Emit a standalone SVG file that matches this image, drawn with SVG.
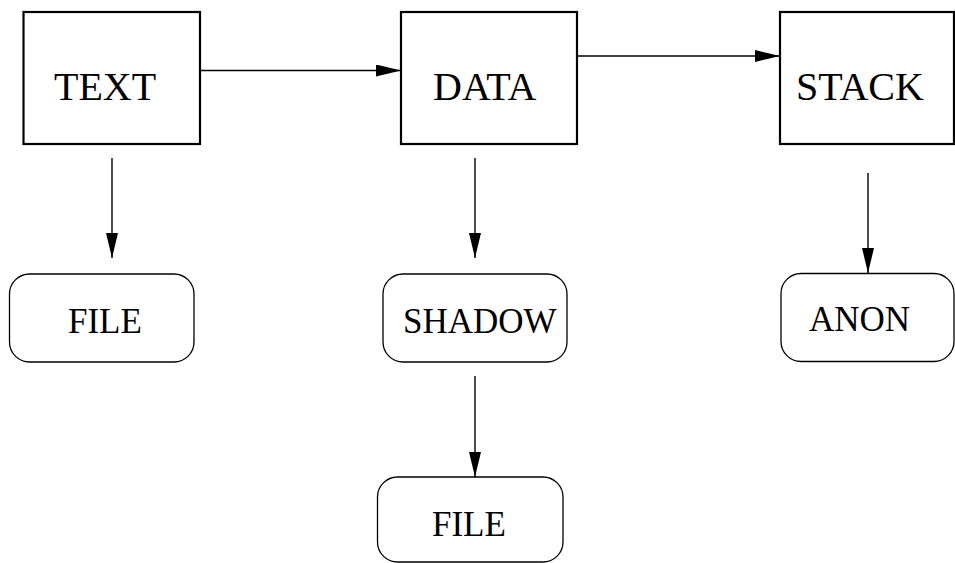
<svg xmlns="http://www.w3.org/2000/svg" width="955" height="563" viewBox="0 0 955 563">
<style>
.box{fill:#fff;stroke:#000;stroke-width:2.2}
.rbox{fill:#fff;stroke:#000;stroke-width:1.3}
.edge{fill:none;stroke:#000;stroke-width:1.4}
.big{font-family:"Liberation Serif","Times New Roman",serif;font-size:40px;fill:#000}
.small{font-family:"Liberation Serif","Times New Roman",serif;font-size:35px;fill:#000}
</style>
<defs>
<marker id="ah" markerUnits="userSpaceOnUse" markerWidth="26" markerHeight="13" refX="25" refY="6" orient="auto">
<path d="M0,0 L25,6 L0,12 z" fill="#000"/>
</marker>
</defs>
<rect width="955" height="563" fill="#fff"/>
<g id="connectors">
<line class="edge" x1="200" y1="70.5" x2="401" y2="70.5" marker-end="url(#ah)"/>
<line class="edge" x1="577" y1="56" x2="780" y2="56" marker-end="url(#ah)"/>
<line class="edge" x1="112" y1="158" x2="112" y2="258" marker-end="url(#ah)"/>
<line class="edge" x1="475" y1="158" x2="475" y2="258" marker-end="url(#ah)"/>
<line class="edge" x1="868" y1="173" x2="868" y2="273" marker-end="url(#ah)"/>
<line class="edge" x1="475" y1="376" x2="475" y2="477" marker-end="url(#ah)"/>
</g>
<g id="text">
<rect class="box" x="23.5" y="12" width="176.5" height="132"/>
<text class="big" x="54" y="100">TEXT</text>
</g>
<g id="data">
<rect class="box" x="401" y="12" width="176" height="132"/>
<text class="big" x="433" y="100">DATA</text>
</g>
<g id="stack">
<rect class="box" x="780" y="12" width="174" height="132"/>
<text class="big" x="796" y="100">STACK</text>
</g>
<g id="file1">
<rect class="rbox" x="9.5" y="274" width="184.5" height="88" rx="20" ry="20"/>
<text class="small" x="68" y="333">FILE</text>
</g>
<g id="shadow">
<rect class="rbox" x="383" y="274" width="184" height="88" rx="20" ry="20"/>
<text class="small" x="403" y="333">SHADOW</text>
</g>
<g id="anon">
<rect class="rbox" x="781" y="273.5" width="173" height="88" rx="20" ry="20"/>
<text class="small" x="809" y="331">ANON</text>
</g>
<g id="file2">
<rect class="rbox" x="377.5" y="477" width="185.5" height="85" rx="20" ry="20"/>
<text class="small" x="432" y="536">FILE</text>
</g>
</svg>
